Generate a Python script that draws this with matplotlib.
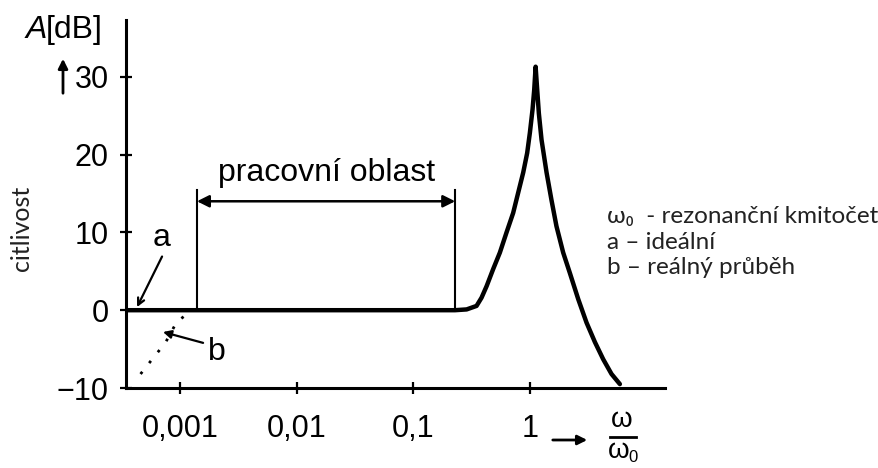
import matplotlib
matplotlib.use("Agg")
import matplotlib.pyplot as plt
from matplotlib.lines import Line2D

# ---- data ----
freq_a = [3.45e-4, 0.228, 0.287, 0.349, 0.385, 0.426, 0.485, 0.553, 0.631, 0.719,
          0.794, 0.877, 0.948, 1.0, 1.054, 1.089, 1.12,
          1.156, 1.194, 1.259, 1.39, 1.53, 1.69, 1.93, 2.20, 2.60, 3.06, 3.61,
          4.25, 5.01, 5.91]
gain_a = [0, 0, 0.1, 0.55, 1.6, 3.1, 5.3, 7.4, 10.0, 12.5,
          15.1, 17.7, 20.2, 22.8, 25.8, 28.3, 31.3,
          28.3, 25.3, 21.9, 17.7, 14.2, 10.8, 7.4, 4.8, 1.4, -1.6, -4.1,
          -6.3, -8.2, -9.5]
freq_b = [4.6e-4, 6.0e-4, 7.5e-4, 9.4e-4, 1.2e-3]
gain_b = [-8.2, -6.0, -4.2, -1.5, -0.3]
band = [1.40e-3, 0.229]
band_top = 15.5
band_arrow = 14.0
xticks = [0.001, 0.01, 0.1, 1]
xtick_labels = ["0,001", "0,01", "0,1", "1"]
yticks = [-10, 0, 10, 20, 30]

W, H = 879, 468
fig = plt.figure(figsize=(W / 100, H / 100), dpi=100)
ax = fig.add_axes([126 / W, 1 - 388 / H, (665 - 126) / W, (388 - 20) / H])

def fp(x, y):
    return (x / W, 1 - y / H)

main_font = "Liberation Sans"
side_font = ["Lato", "Noto Sans", "DejaVu Sans"]

ax.plot(freq_a, gain_a, color="black", lw=3.2, solid_capstyle="round", solid_joinstyle="round")
ax.plot(freq_b, gain_b, color="black", lw=2, linestyle=(0, (1, 4)))

ax.set_xscale("log")
ax.set_xlim(3.45e-4, 14.4)
ax.set_ylim(-10, 37.3)
ax.set_xticks(xticks)
ax.set_xticklabels(xtick_labels)
ax.set_yticks(yticks)
ax.xaxis.set_minor_locator(matplotlib.ticker.NullLocator())
for s in ["top", "right"]:
    ax.spines[s].set_visible(False)
for s in ["left", "bottom"]:
    ax.spines[s].set_linewidth(2.2)
ax.tick_params(direction="inout", length=9, width=1.6, labelsize=22, pad=8)
ax.tick_params(axis="x", pad=14)
for lab in ax.get_xticklabels() + ax.get_yticklabels():
    lab.set_fontfamily(main_font)
ax.patch.set_alpha(0)

# working range
for xv in band:
    ax.plot([xv, xv], [0, band_top], color="black", lw=1.5)
ax.annotate("", xy=(band[1], band_arrow), xytext=(band[0], band_arrow),
            arrowprops=dict(arrowstyle="<|-|>", color="black", lw=1.8,
                            mutation_scale=18, shrinkA=0, shrinkB=0))
ax.text(0.0182, 17.6, "pracovní oblast", fontsize=23, family=main_font,
        ha="center", va="center")

# labels a, b
ax.text(7.0e-4, 9.3, "a", fontsize=23, family=main_font, ha="center", va="center")
ax.annotate("", xy=(4.29e-4, 0.4), xytext=(7.03e-4, 6.9),
            arrowprops=dict(arrowstyle="->", color="black", lw=1.6,
                            mutation_scale=12, shrinkA=0, shrinkB=0))
ax.text(2.08e-3, -5.4, "b", fontsize=23, family=main_font, ha="center", va="center")
ax.annotate("", xy=(7.16e-4, -2.8), xytext=(1.58e-3, -4.2),
            arrowprops=dict(arrowstyle="-|>", color="black", lw=1.6,
                            mutation_scale=12, shrinkA=0, shrinkB=0))

# axis title A[dB] with upward arrow
fig.text(*fp(47, 30), "A", fontsize=23, family=main_font, style="italic",
         ha="right", va="center")
fig.text(*fp(46, 30), "[dB]", fontsize=23, family=main_font, ha="left", va="center")
fig.add_artist(matplotlib.patches.FancyArrowPatch(
    fp(63, 96), fp(63, 56), transform=fig.transFigure, arrowstyle="-|>",
    mutation_scale=14, lw=2, color="black"))

# y label
fig.text(*fp(22, 228), "citlivost", fontsize=18, family=side_font, rotation=90,
         ha="center", va="center", color="#222222")

# x axis label: -> omega/omega0
fig.add_artist(matplotlib.patches.FancyArrowPatch(
    fp(550, 440), fp(590, 440), transform=fig.transFigure, arrowstyle="-|>",
    mutation_scale=14, lw=2, color="black"))
fig.text(*fp(622, 420), "ω", fontsize=20, family=main_font, ha="center", va="center")
fig.add_artist(Line2D([610 / W, 636 / W], [1 - 437 / H, 1 - 437 / H],
                      transform=fig.transFigure, color="black", lw=2))
fig.text(*fp(619, 451), "ω", fontsize=20, family=main_font, ha="center", va="center")
fig.text(*fp(633, 457), "0", fontsize=12, family=main_font, ha="center", va="center")

# legend text on the right
fig.text(*fp(607, 216), "ω\u2080  - rezonanční kmitočet", fontsize=17.5, family=side_font,
         ha="left", va="center", color="#222222")
fig.text(*fp(607, 242), "a – ideální", fontsize=17.5, family=side_font,
         ha="left", va="center", color="#222222")
fig.text(*fp(607, 268), "b – reálný průběh", fontsize=17.5, family=side_font,
         ha="left", va="center", color="#222222")

fig.savefig("out.png", dpi=100)
